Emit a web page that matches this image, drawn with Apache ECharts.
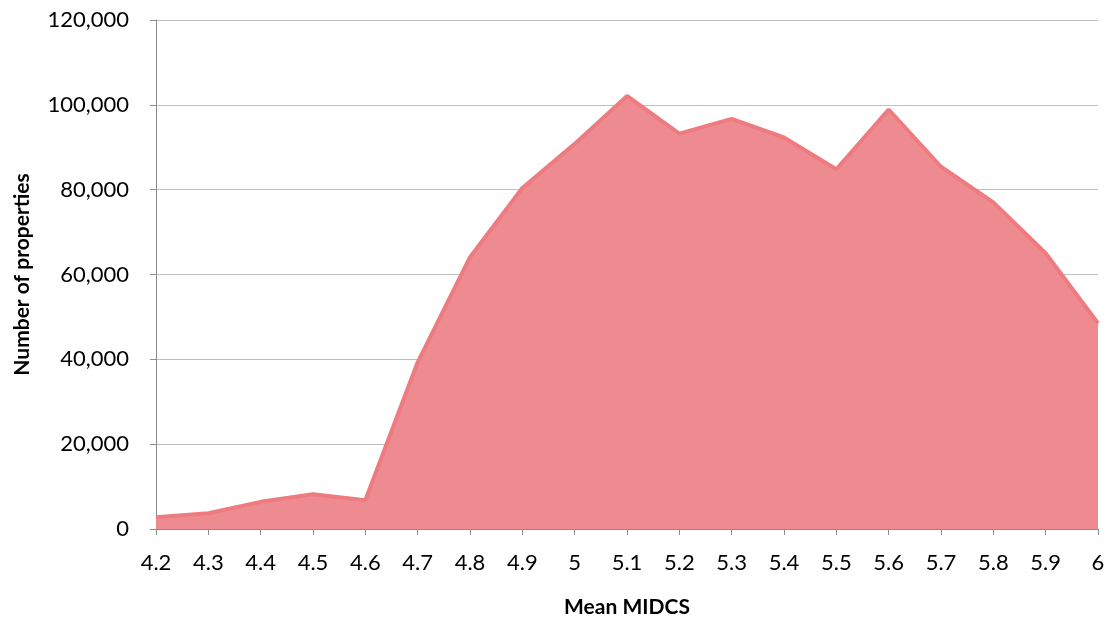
<!DOCTYPE html>
<html>
<head>
<meta charset="utf-8">
<script src="https://cdn.jsdelivr.net/npm/echarts@6/dist/echarts.min.js"></script>
<style>
  html, body { margin: 0; padding: 0; background: #fff; }
  #chart { width: 1113px; height: 619px; }
</style>
</head>
<body>
<div id="chart"></div>
<script>
// Mean MIDCS score bins
const categories = ['4.2','4.3','4.4','4.5','4.6','4.7','4.8','4.9','5','5.1','5.2','5.3','5.4','5.5','5.6','5.7','5.8','5.9','6'];
// Number of properties in each bin
const propertyCounts = [2800, 3700, 6400, 8200, 6800, 39300, 64100, 80400, 90800, 102100, 93200, 96700, 92300, 84800, 98900, 85400, 77000, 65000, 48500];
// Value axis range
const yMin = 0, yMax = 120000, yStep = 20000;

const fontFamily = 'Lato, "Open Sans", sans-serif';
const chart = echarts.init(document.getElementById('chart'));
chart.setOption({
  animation: false,
  grid: { left: 156, right: 15, top: 20, bottom: 90, outerBoundsMode: 'none', containLabel: false },
  xAxis: {
    type: 'category',
    data: categories,
    boundaryGap: false,
    name: 'Mean MIDCS',
    nameLocation: 'middle',
    nameGap: 68,
    nameTextStyle: { fontFamily, fontSize: 21, fontWeight: 'bold', color: '#000' },
    axisLine: { lineStyle: { color: '#8c8c8c', width: 1 } },
    axisTick: { alignWithLabel: true, length: 6, lineStyle: { color: '#8c8c8c' } },
    axisLabel: { fontFamily, fontSize: 22, color: '#000', margin: 23 }
  },
  yAxis: {
    type: 'value',
    min: yMin, max: yMax, interval: yStep,
    name: 'Number of properties',
    nameLocation: 'middle',
    nameGap: 123,
    nameTextStyle: { fontFamily, fontSize: 21, fontWeight: 'bold', color: '#000' },
    axisLine: { show: true, lineStyle: { color: '#8c8c8c', width: 1 } },
    axisTick: { show: true, length: 6, lineStyle: { color: '#8c8c8c' } },
    axisLabel: {
      fontFamily, fontSize: 22, color: '#000', margin: 27,
      formatter: v => v.toLocaleString('en-US')
    },
    splitLine: { lineStyle: { color: '#bfbfbf', width: 1 } }
  },
  series: [{
    type: 'line',
    data: propertyCounts,
    symbol: 'none',
    lineStyle: { color: '#ee7b80', width: 4 },
    areaStyle: { color: '#ed8b90', opacity: 1 },
    z: 3
  }]
});
</script>
</body>
</html>
